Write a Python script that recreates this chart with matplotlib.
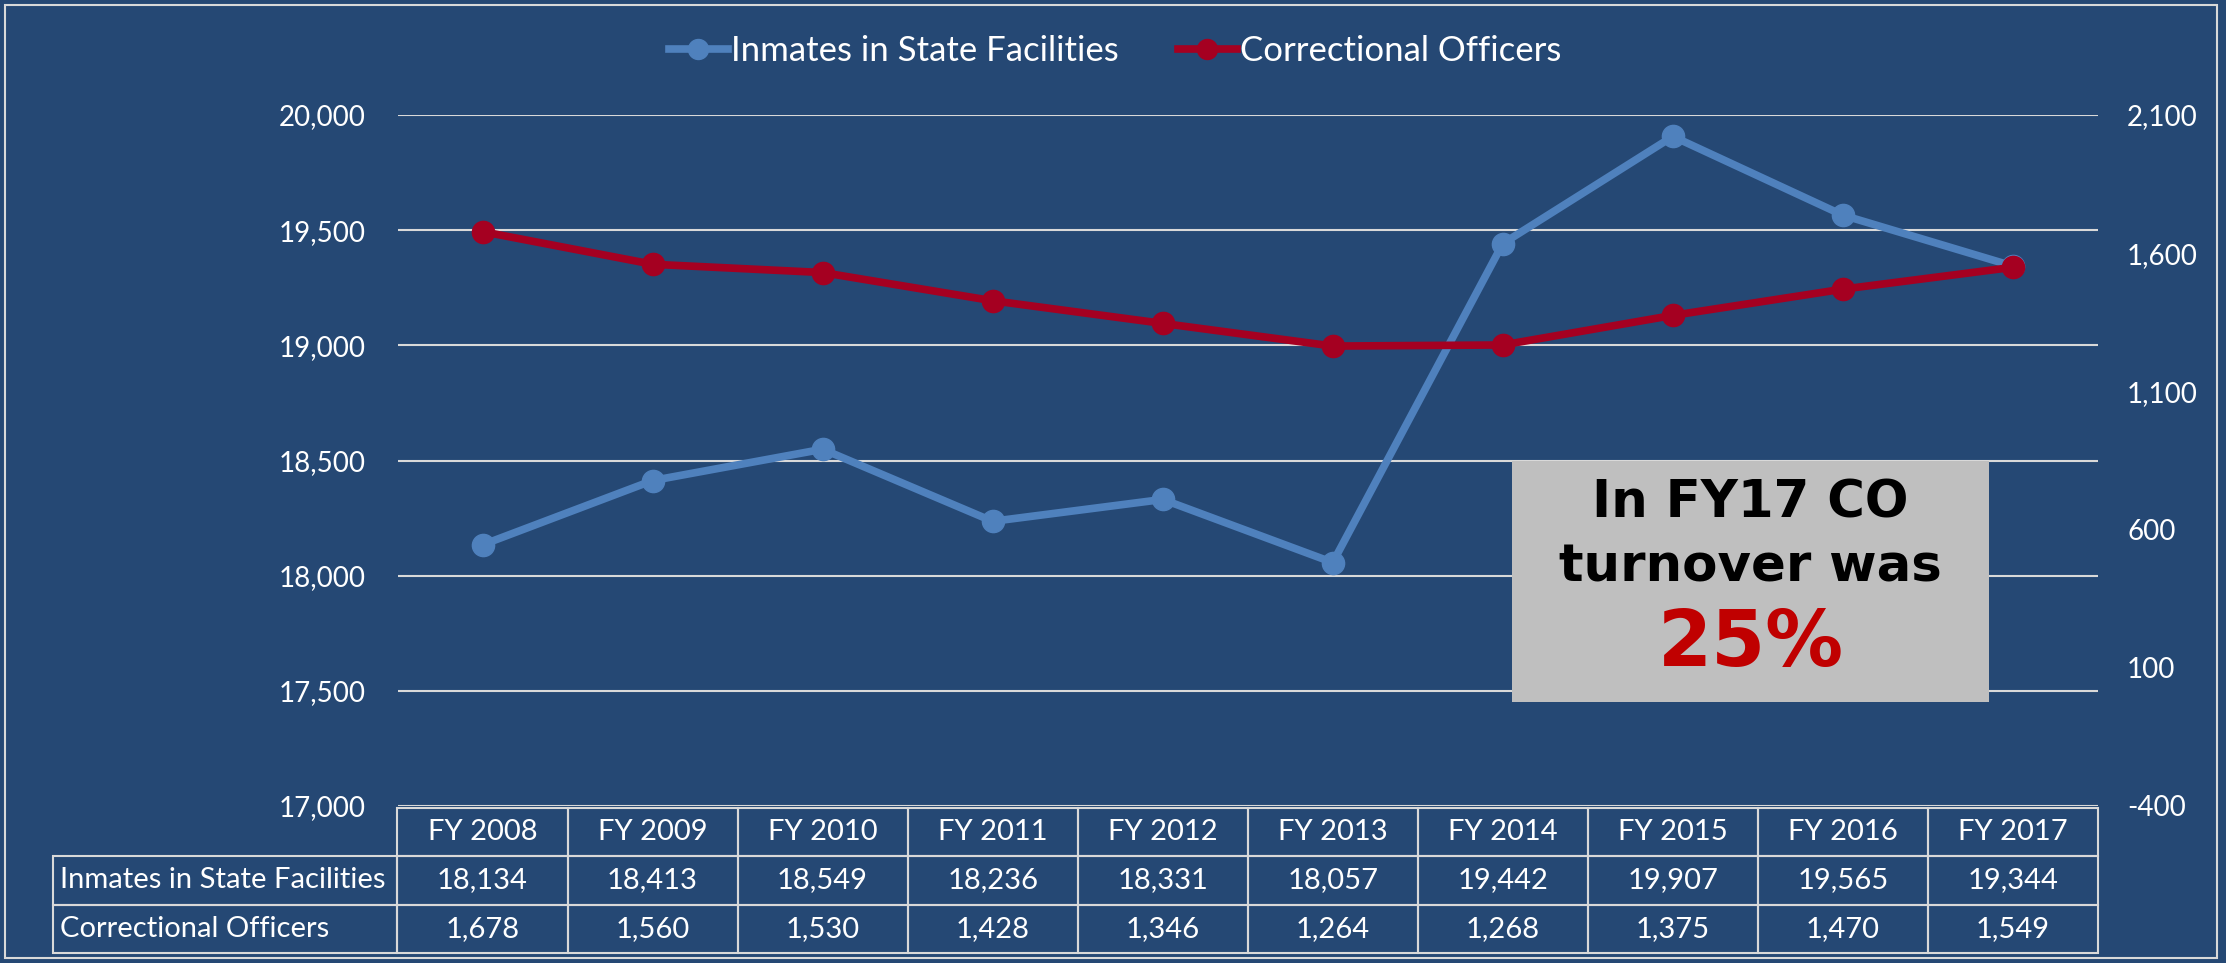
"""
Inmates vs correctional officers, FY2008-FY2017 — line chart with data table.
"""

import matplotlib
matplotlib.use("Agg")
import matplotlib.pyplot as plt
from matplotlib.patches import Rectangle
from matplotlib.table import Table
from matplotlib.ticker import FuncFormatter

plt.rcParams["font.family"] = ["Lato", "DejaVu Sans"]

# data
years = ["FY 2008", "FY 2009", "FY 2010", "FY 2011", "FY 2012",
         "FY 2013", "FY 2014", "FY 2015", "FY 2016", "FY 2017"]
inmates = [18134, 18413, 18549, 18236, 18331, 18057, 19442, 19907, 19565, 19344]
officers = [1678, 1560, 1530, 1428, 1346, 1264, 1268, 1375, 1470, 1549]
series_names = ["Inmates in State Facilities", "Correctional Officers"]
left_ticks = [17000, 17500, 18000, 18500, 19000, 19500, 20000]
right_ticks = [-400, 100, 600, 1100, 1600, 2100]

BG = "#254874"
BLUE = "#4F81BD"
RED = "#A50021"
GRID = "#D9D9D9"
W, H = 2226, 963

fig = plt.figure(figsize=(W / 100, H / 100), dpi=100, facecolor=BG)

# plot area in pixels: x 397..2098, y 115..806 (from top)
ax = fig.add_axes([397.5 / W, 1 - 806 / H, 1700.5 / W, 691 / H])
ax.set_facecolor(BG)
ax2 = ax.twinx()

x = list(range(len(years)))

ax.plot(x, inmates, color=BLUE, lw=5.5, marker="o", ms=16,
        label=series_names[0], solid_joinstyle="round", zorder=3)
ax2.plot(x, officers, color=RED, lw=5.5, marker="o", ms=16,
         label=series_names[1], solid_joinstyle="round", zorder=3)

ax.set_xlim(-0.5, len(years) - 0.5)
ax.set_ylim(17000, 20000)
ax.set_yticks(left_ticks)
ax2.set_ylim(-400, 2100)
ax2.set_yticks(right_ticks)

fmt = FuncFormatter(lambda v, p: f"{int(v):,}")
ax.yaxis.set_major_formatter(fmt)
ax2.yaxis.set_major_formatter(fmt)

ax.grid(axis="y", color=GRID, lw=1.5)
ax.set_axisbelow(True)
ax.set_xticks([])
for a in (ax, ax2):
    for s in a.spines.values():
        s.set_visible(False)
ax.tick_params(axis="y", length=0, pad=23, labelsize=20, labelcolor="white")
ax2.tick_params(axis="y", length=0, pad=21, labelsize=20, labelcolor="white")

# data table under the plot
tbl = Table(ax, bbox=[-0.2026, -0.2127, 1.2026, 0.2098])
label_w = 344.5
col_w = 170.05
row_h = 1.0
corner = tbl.add_cell(0, 0, label_w, row_h, text="", facecolor="none",
                      edgecolor=GRID)
corner.visible_edges = "open"
for j, yr in enumerate(years):
    tbl.add_cell(0, j + 1, col_w, row_h, text=yr, loc="center",
                 facecolor="none", edgecolor=GRID)
for i, (name, vals) in enumerate(zip(series_names, [inmates, officers])):
    c = tbl.add_cell(i + 1, 0, label_w, row_h, text=name, loc="left",
                     facecolor="none", edgecolor=GRID)
    c.PAD = 0.02
    for j, v in enumerate(vals):
        tbl.add_cell(i + 1, j + 1, col_w, row_h, text=f"{v:,}", loc="center",
                     facecolor="none", edgecolor=GRID)
tbl.auto_set_font_size(False)
tbl.set_fontsize(21)
for cell in tbl.get_celld().values():
    cell.set_linewidth(1.5)
    cell.get_text().set_color("white")
ax.add_table(tbl)

# legend
h1, l1 = ax.get_legend_handles_labels()
h2, l2 = ax2.get_legend_handles_labels()
fig.legend(h1 + h2, l1 + l2, loc="center", bbox_to_anchor=(0.501, 1 - 51 / H),
           ncol=2, frameon=False, fontsize=25, labelcolor="white",
           handlelength=1.7, handletextpad=0.1, columnspacing=1.7,
           markerscale=0.9)

# callout box
fig.patches.append(Rectangle((1512 / W, 1 - 702 / H), 477 / W, 241 / H,
                             transform=fig.transFigure, facecolor="#BFBFBF",
                             edgecolor="none", zorder=10))
cx = 1750.5 / W
box_font = ["DejaVu Sans"]
fig.text(cx, 1 - 503 / H, "In FY17 CO", ha="center", va="center",
         fontsize=37, fontweight="bold", family=box_font, color="black",
         zorder=11)
fig.text(cx, 1 - 567 / H, "turnover was", ha="center", va="center",
         fontsize=37, fontweight="bold", family=box_font, color="black",
         zorder=11)
fig.text(cx, 1 - 644 / H, "25%", ha="center", va="center",
         fontsize=56, fontweight="bold", family=box_font, color="#C00000",
         zorder=11)

# outer frame
fig.patches.append(Rectangle((5 / W, 5 / H), 2212 / W, 953 / H,
                             transform=fig.transFigure, fill=False,
                             edgecolor=GRID, lw=1.5, zorder=12))

fig.savefig("out.png", dpi=100, facecolor=BG)
